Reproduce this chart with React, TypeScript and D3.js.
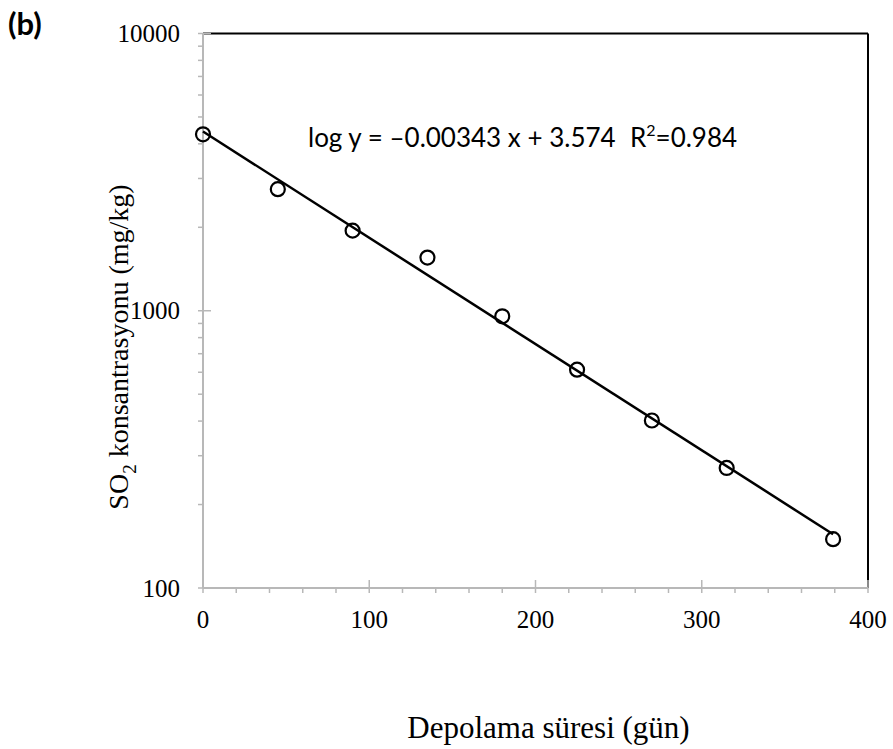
import React from "react";
import * as d3 from "d3";

const storageDays = [0, 45, 90, 135, 180, 225, 270, 315, 379];
const so2Values = [4330, 2745, 1945, 1555, 955, 613, 402, 271, 150];
const xTickValues = [0, 100, 200, 300, 400];
const yTickValues = [100, 1000, 10000];
const equationText = "log y = \u20130.00343 x + 3.574";
const xTitle = "Depolama süresi (gün)";
const panelLabel = "(b)";

const W = 893;
const H = 749;
const left = 203;
const right = 868;
const top = 33.5;
const bottom = 588;
const axisGrey = "#b8b8b8";
const serif = "'Liberation Serif', 'Times New Roman', serif";
const sans = "Lato, 'Open Sans', sans-serif";

export default function App() {
  const x = d3.scaleLinear().domain([0, 400]).range([left, right]);
  const y = d3.scaleLog().domain([100, 10000]).range([bottom, top]);

  // least-squares fit of log10(y) on x (trendline)
  const n = storageDays.length;
  const ly = so2Values.map((v) => Math.log10(v));
  const mx = d3.mean(storageDays) as number;
  const my = d3.mean(ly) as number;
  let sxy = 0, sxx = 0;
  storageDays.forEach((xv, i) => {
    sxy += (xv - mx) * (ly[i] - my);
    sxx += (xv - mx) * (xv - mx);
  });
  const slope = sxy / sxx;
  const intercept = my - slope * mx;
  const fitLine = d3
    .line<number>()
    .x((d) => x(d))
    .y((d) => y(Math.pow(10, intercept + slope * d)))([storageDays[0], storageDays[n - 1]]);

  const minorY: number[] = [];
  for (let dec = 100; dec < 10000; dec *= 10) {
    for (let k = 2; k <= 9; k++) minorY.push(dec * k);
  }
  const minorX = d3.range(0, 401, 20).filter((v) => v % 100 !== 0);

  return (
    <div style={{ position: "absolute", left: 0, top: 0 }}>
      <svg width={W} height={H} style={{ display: "block", background: "#fff" }}>
        {/* plot border top/right */}
        <line x1={left} x2={right} y1={top} y2={top} stroke="#000" strokeWidth={2} />
        <line x1={right} x2={right} y1={top} y2={bottom} stroke="#000" strokeWidth={2} />

        {/* y axis */}
        <line x1={left} x2={left} y1={top} y2={bottom} stroke={axisGrey} strokeWidth={2} />
        {minorY.map((v) => (
          <line key={"my" + v} x1={left - 5} x2={left} y1={y(v)} y2={y(v)} stroke={axisGrey} strokeWidth={1.5} />
        ))}
        {yTickValues.map((v) => (
          <g key={"yt" + v}>
            <line x1={left - 5} x2={left + 8} y1={y(v)} y2={y(v)} stroke={axisGrey} strokeWidth={1.5} />
            <text x={180} y={y(v)} dy="0.34em" textAnchor="end" fontFamily={serif} fontSize={25} fill="#000">
              {v}
            </text>
          </g>
        ))}

        {/* x axis */}
        <line x1={left} x2={right} y1={bottom} y2={bottom} stroke={axisGrey} strokeWidth={2} />
        {minorX.map((v) => (
          <line key={"mx" + v} x1={x(v)} x2={x(v)} y1={bottom} y2={bottom + 5} stroke={axisGrey} strokeWidth={1.5} />
        ))}
        {xTickValues.map((v) => (
          <g key={"xt" + v}>
            <line x1={x(v)} x2={x(v)} y1={bottom - 8} y2={bottom + 5} stroke={axisGrey} strokeWidth={1.5} />
            <text x={x(v)} y={628} textAnchor="middle" fontFamily={serif} fontSize={25} fill="#000">
              {v}
            </text>
          </g>
        ))}

        {/* trendline */}
        <path d={fitLine || ""} fill="none" stroke="#000" strokeWidth={2.5} />

        {/* points */}
        {storageDays.map((d, i) => (
          <circle key={"p" + i} cx={x(d)} cy={y(so2Values[i])} r={7} fill="none" stroke="#000" strokeWidth={2.2} />
        ))}

        {/* equation */}
        <text x={308} y={147} fontFamily={sans} fontSize={26} fill="#000">
          {equationText}
        </text>
        <text x={630} y={147} fontFamily={sans} fontSize={26} fill="#000">
          R<tspan dy={-11} fontSize={16}>2</tspan>
          <tspan dy={11}>=0.984</tspan>
        </text>

        {/* y title */}
        <text
          transform={`translate(128, 347) rotate(-90)`}
          textAnchor="middle"
          fontFamily={serif}
          fontSize={28}
          fill="#000"
        >
          SO<tspan dy={8} fontSize={19}>2</tspan>
          <tspan dy={-8}> konsantrasyonu (mg/kg)</tspan>
        </text>

        {/* x title */}
        <text x={548.5} y={738} textAnchor="middle" fontFamily={serif} fontSize={31} fill="#000">
          {xTitle}
        </text>

        {/* panel label */}
        <text x={8} y={35} fontFamily={sans} fontWeight="bold" fontSize={31} fill="#000">
          {panelLabel}
        </text>
      </svg>
    </div>
  );
}
